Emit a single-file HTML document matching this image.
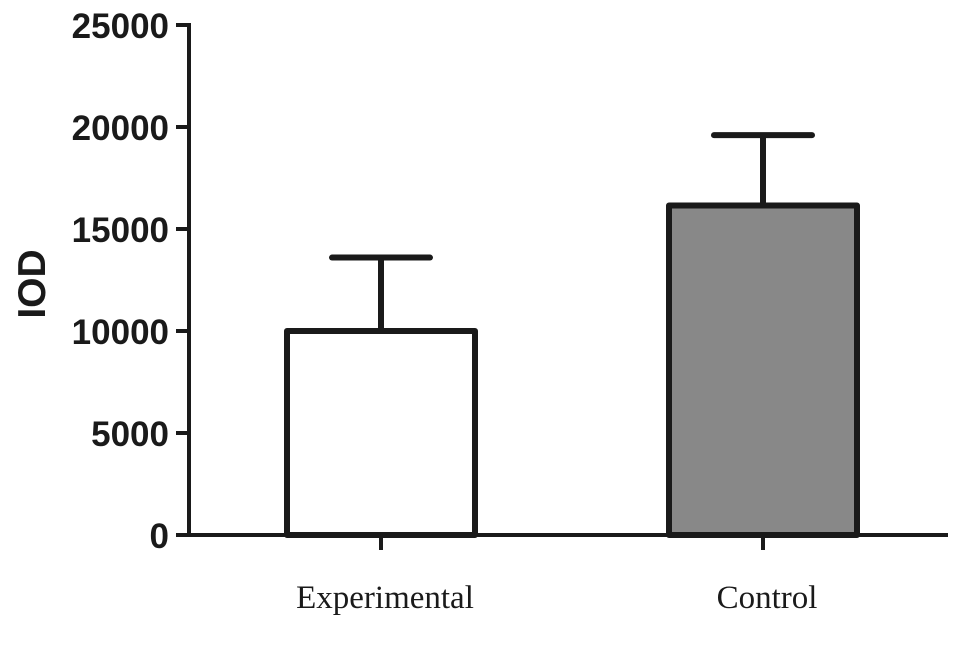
<!DOCTYPE html>
<html><head><meta charset="utf-8"><style>
body{margin:0;background:#fff}
svg{display:block}
.tl{font-family:"Liberation Sans",sans-serif;font-weight:bold;font-size:35px;fill:#1a1a1a}
.xl{font-family:"Liberation Serif",serif;font-size:33px;fill:#1a1a1a}
</style></head><body>
<svg id="chart" width="969" height="653" viewBox="0 0 969 653"></svg>
<script>
const categories=["Experimental","Control"];
const means=[10000,16150];
const errors=[3600,3450];
const fills=["#ffffff","#888888"];
const yTicks=[0,5000,10000,15000,20000,25000];
const NS="http://www.w3.org/2000/svg";
const svg=document.getElementById('chart');
const x0=189,x1=948,yBase=535,yTop=25,yMax=25000;
const y=v=>yBase-(v/yMax)*(yBase-yTop);
const xc=i=>381+i*382;
const bw=188,cap=98;
function mk(t,a,p){const e=document.createElementNS(NS,t);for(const k in a)e.setAttribute(k,a[k]);(p||svg).appendChild(e);return e;}
const S="#1a1a1a";
yTicks.forEach(v=>{
 const g=mk('g',{});
 
 
 mk('line',{x1:176,x2:x0,y1:y(v),y2:y(v),stroke:S,'stroke-width':4},g);
 const t=mk('text',{x:169,y:y(v)+13,'text-anchor':'end',class:'tl'},g);t.textContent=v;
});
categories.forEach((c,i)=>{
 const cx=xc(i);
 const g=mk('g',{});
 
 
 mk('line',{x1:cx,x2:cx,y1:y(means[i]),y2:y(means[i]+errors[i]),stroke:S,'stroke-width':6},g);
 mk('line',{x1:cx-cap/2,x2:cx+cap/2,y1:y(means[i]+errors[i]),y2:y(means[i]+errors[i]),stroke:S,'stroke-width':6,'stroke-linecap':'round'},g);
 mk('rect',{x:cx-bw/2,y:y(means[i]),width:bw,height:yBase-y(means[i]),fill:fills[i],stroke:S,'stroke-width':6,'stroke-linejoin':'round'},g);
 mk('line',{x1:cx,x2:cx,y1:yBase,y2:550,stroke:S,'stroke-width':4},g);
 const t=mk('text',{x:cx+4,y:608,'text-anchor':'middle',class:'xl'});
 
 
 t.textContent=c;
});
const ya=mk('line',{x1:x0,x2:x0,y1:yTop-2,y2:yBase+2,stroke:S,'stroke-width':4});


const xa=mk('line',{x1:176,x2:x1,y1:yBase,y2:yBase,stroke:S,'stroke-width':4});


const yt=mk('text',{x:0,y:0,transform:'translate(45,284) rotate(-90)','text-anchor':'middle',class:'tl',style:'font-size:39px'});


yt.textContent='IOD';
</script>
</body></html>
